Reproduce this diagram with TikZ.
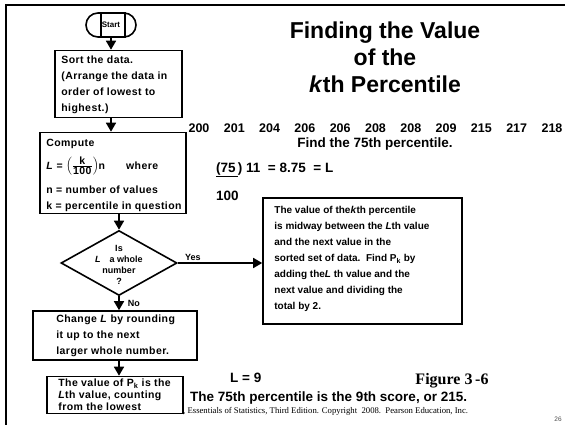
\documentclass[tikz,border=0pt]{standalone}
\usepackage{fontspec}
\setmainfont{Liberation Sans}
\newfontfamily\timesfont{Liberation Serif}
\newfontfamily\boxfont[LetterSpace=4]{Liberation Sans}
\usetikzlibrary{arrows.meta,shapes.geometric,shapes.misc}

\begin{document}
\begin{tikzpicture}[x=1pt,y=-1pt,
        flowbox/.style={draw, line width=1.6pt, inner sep=0pt},
        boxtext/.style={font=\boxfont\bfseries\fontsize{10.5}{16}\selectfont, align=left, inner sep=0pt, anchor=west},
        smalltext/.style={font=\bfseries\fontsize{9}{11}\selectfont, align=center, inner sep=0pt},
        flowarrow/.style={line width=1.6pt, -{Triangle[length=9pt,width=10pt]}},
        bigtext/.style={font=\bfseries\fontsize{13.5}{16}\selectfont, inner sep=0pt}]
    \useasboundingbox (0,0) rectangle (565,425);
    % slide frame
    \draw[line width=2pt] (6,425) -- (6,5) -- (565,5);
    % flowchart
    \node[flowbox, rounded rectangle, minimum width=50pt, minimum height=24pt,
        font=\bfseries\fontsize{8}{9}\selectfont] (start) at (111,25) {Start};
    \draw[line width=1.6pt] ([xshift=-10pt]start.north) -- ([xshift=-10pt]start.south);
    \draw[line width=1.6pt] ([xshift=14pt]start.north) -- ([xshift=14pt]start.south);
    \node[flowbox, minimum width=127pt, minimum height=67pt] (sort) at (118.5,84) {};
    \node[boxtext] (sorttxt) at ([xshift=7pt,yshift=-1pt]sort.west)
        {Sort the data.\\(Arrange the data in\\order of lowest to\\highest.)};
    \node[flowbox, minimum width=146pt, minimum height=81pt] (compute) at (113,173) {};
    \node[boxtext] (computetxt) at ([xshift=7pt,yshift=-2pt]compute.west)
        {Compute\\[7pt]\textit{L} = $\left(\frac{\mbox{\bfseries k}}{\mbox{\bfseries 100}}\right)$n\qquad where\\[8pt]
         n = number of values\\k = percentile in question};
    \node[flowbox, diamond, minimum width=116pt, minimum height=65pt] (dia) at (119,263) {};
    \node[smalltext] (diatxt) at (119,265) {Is\\\textit{L}\quad a whole\\number\\?};
    \node[flowbox, minimum width=164pt, minimum height=49pt] (change) at (115,335.5) {};
    \node[boxtext] (changetxt) at ([xshift=24pt]change.west)
        {Change \textit{L} by rounding\\it up to the next\\larger whole number.};
    \node[flowbox, minimum width=136pt, minimum height=37pt] (final) at (115,395) {};
    \node[boxtext, font=\boxfont\bfseries\fontsize{10.5}{12}\selectfont] (finaltxt) at ([xshift=12pt]final.west)
        {The value of P\textsubscript{k} is the\\\textit{L}th value, counting\\from the lowest};
    \node[flowbox, minimum width=199pt, minimum height=126pt] (note) at (362.5,261) {};
    \node[boxtext, font=\bfseries\fontsize{10}{16}\selectfont] (notetxt) at ([xshift=12pt,yshift=2pt]note.west)
        {The value of the\textit{k}th percentile\\is midway between the \textit{L}th value\\and the next value in the\\
         sorted set of data.\ \ Find P\textsubscript{k} by\\adding the\textit{L} th value and the\\
         next value and dividing the\\total by 2.};
    \draw[flowarrow] (start.south) -- (start.south |- sort.north);
    \draw[flowarrow] (sort.south -| start) -- (compute.north -| start);
    \draw[flowarrow] (compute.south -| dia) -- (dia.north);
    \draw[flowarrow] (dia.east) -- (dia.east -| note.west)
        node[pos=0.18, above, smalltext, yshift=2pt] {Yes};
    \draw[flowarrow] (dia.south) -- (dia.south |- change.north)
        node[midway, right, smalltext, xshift=8pt] {No};
    \draw[flowarrow] (change.south -| dia) -- (final.north -| dia);
    % worked example
    \node[font=\bfseries\fontsize{23}{27}\selectfont, align=center] (title) at (385,57)
        {Finding the Value\\of the\\\textit{k}th Percentile};
    \foreach \v [count=\i] in {200,201,204,206,206,208,208,209,215,217,218}
        \node[bigtext, font=\bfseries\fontsize{12.5}{14}\selectfont] (n\i) at ({199+35.3*(\i-1)},128) {\v};
    \node[bigtext] (find) at (375,144) {Find the 75th percentile.};
    \node[bigtext, anchor=west] (calc) at (216,170) {\underline{(75\,}) 11\ \ = 8.75\ \ = L};
    \node[bigtext, anchor=west] (hundred) at (216,196) {100};
    \node[bigtext, anchor=west] (lnine) at (230,378) {L = 9};
    \node[font=\timesfont\bfseries\fontsize{16}{18}\selectfont] (fig) at (452,381) {Figure 3\,-6};
    \node[bigtext, anchor=west] (answer) at (190,398) {The 75th percentile is the 9th score, or 215.};
    \node[font=\timesfont\fontsize{8.7}{10}\selectfont, anchor=west, inner sep=0pt] (credit) at (183,411)
        {, Essentials of Statistics, Third Edition. Copyright\ \ 2008.\ \ Pearson Education, Inc.};
    \node[font=\fontsize{6.5}{8}\selectfont, text=black!70] (page) at (558,419) {26};
\end{tikzpicture}
\end{document}
